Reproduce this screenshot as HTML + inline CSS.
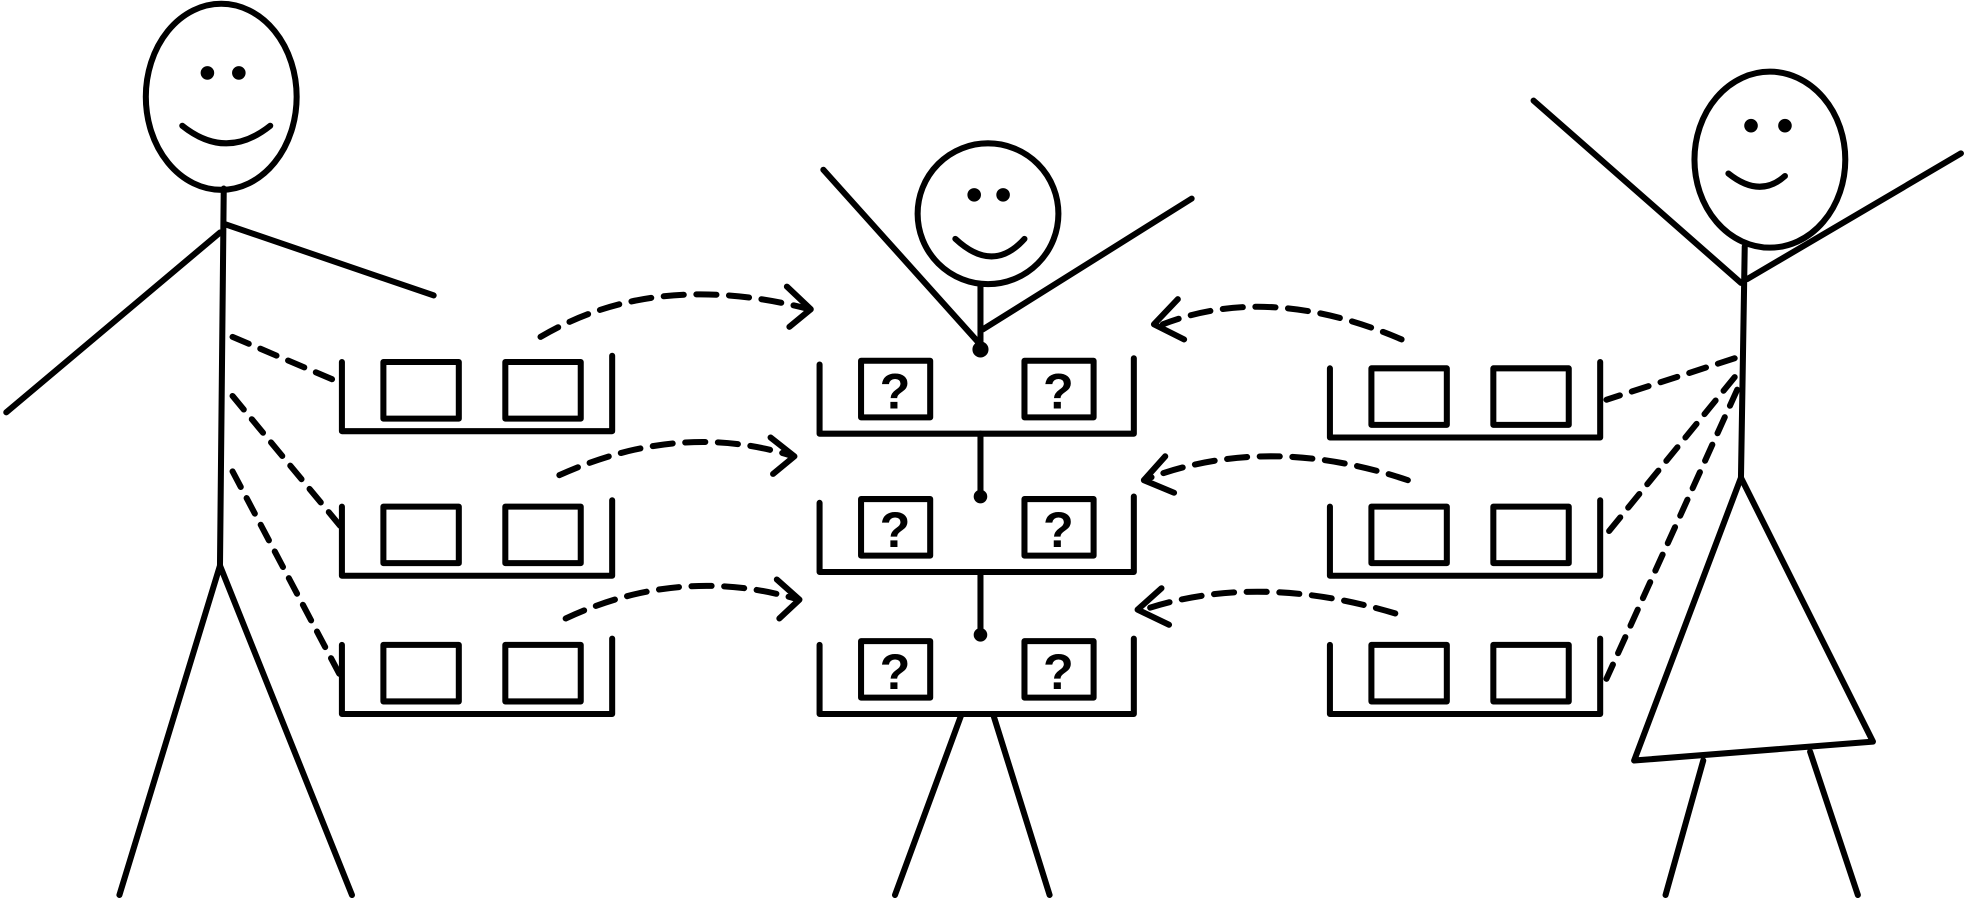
<!DOCTYPE html>
<html><head><style>html,body{margin:0;padding:0;background:#fff}svg{display:block}</style></head>
<body>
<svg width="1971" height="912" viewBox="0 0 1568 725.5" xmlns="http://www.w3.org/2000/svg" fill="none" stroke="#000" stroke-width="4.8" stroke-linecap="round" stroke-linejoin="round">
<defs>
<g id="tray"><path d="M0,5 V60 H215 V0"/><rect x="33" y="5" width="60" height="45"/><rect x="130" y="5" width="60" height="45"/></g>
<g id="qtray"><path d="M0,5 V60 H250 V0"/><rect x="33" y="2" width="55" height="45"/><rect x="163" y="2" width="55" height="45"/>
<text x="60" y="40" font-family="Liberation Sans, sans-serif" font-size="40" font-weight="bold" fill="#000" stroke="none" text-anchor="middle">?</text>
<text x="190" y="40" font-family="Liberation Sans, sans-serif" font-size="40" font-weight="bold" fill="#000" stroke="none" text-anchor="middle">?</text></g>
</defs>
<!-- left man -->
<ellipse cx="176" cy="77" rx="60" ry="74"/>
<circle cx="165" cy="58" r="3" fill="#000"/><circle cx="190" cy="58" r="3" fill="#000"/>
<path d="M145,100 Q180,128 215,100"/>
<path d="M178,150 L175,450 M178,178 L345,235 M175,185 L5,328 M175,450 L95,712 M175,450 L280,712"/>
<path stroke-dasharray="14,10" d="M185,268 L272,305 M185,315 L272,420 M185,375 L272,540"/>
<use href="#tray" x="272" y="283"/><use href="#tray" x="272" y="398"/><use href="#tray" x="272" y="508"/>
<!-- middle -->
<use href="#qtray" x="652" y="285"/><use href="#qtray" x="652" y="395"/><use href="#qtray" x="652" y="508"/>
<path d="M780,345 V395 M780,455 V505"/>
<circle cx="780" cy="395" r="3" fill="#000"/><circle cx="780" cy="505" r="3" fill="#000"/>
<circle cx="786" cy="170" r="56"/>
<circle cx="775" cy="155" r="3" fill="#000"/><circle cx="798" cy="155" r="3" fill="#000"/>
<path d="M760,190 Q790,218 815,190"/>
<path d="M780,226 V280 M655,135 L778,272 M948,158 L782,262 M765,568 L712,712 M790,568 L835,712"/>
<circle cx="780" cy="278" r="4" fill="#000"/>
<!-- arrows -->
<g stroke-dasharray="16,10">
<path d="M430,268 Q520,215 640,245"/><path d="M445,378 Q540,335 628,362"/><path d="M450,492 Q540,450 632,476"/>
<path d="M1115,270 Q1010,225 925,258"/><path d="M1120,382 Q1010,345 915,380"/><path d="M1110,488 Q1000,455 910,485"/>
</g>
<path d="M626,228 L645,246 L628,260 M613,348 L632,363 L615,377 M618,461 L636,477 L620,492"/>
<path d="M937,238 L918,258 L942,270 M927,363 L910,382 L934,392 M924,468 L905,485 L930,497"/>
<!-- right trays -->
<use href="#tray" x="1058" y="288"/><use href="#tray" x="1058" y="398"/><use href="#tray" x="1058" y="508"/>
<!-- right woman -->
<ellipse cx="1408" cy="127" rx="60" ry="70"/>
<circle cx="1393" cy="100" r="3" fill="#000"/><circle cx="1420" cy="100" r="3" fill="#000"/>
<path d="M1375,138 Q1400,158 1420,140"/>
<path d="M1388,196 L1385,380 M1220,80 L1385,225 M1560,122 L1390,222 M1385,380 L1300,605 L1490,590 Z M1355,605 L1325,712 M1440,598 L1478,712"/>
<path stroke-dasharray="14,10" d="M1380,285 L1278,318 M1380,300 L1278,425 M1382,310 L1278,540"/>
</svg>
</body></html>
